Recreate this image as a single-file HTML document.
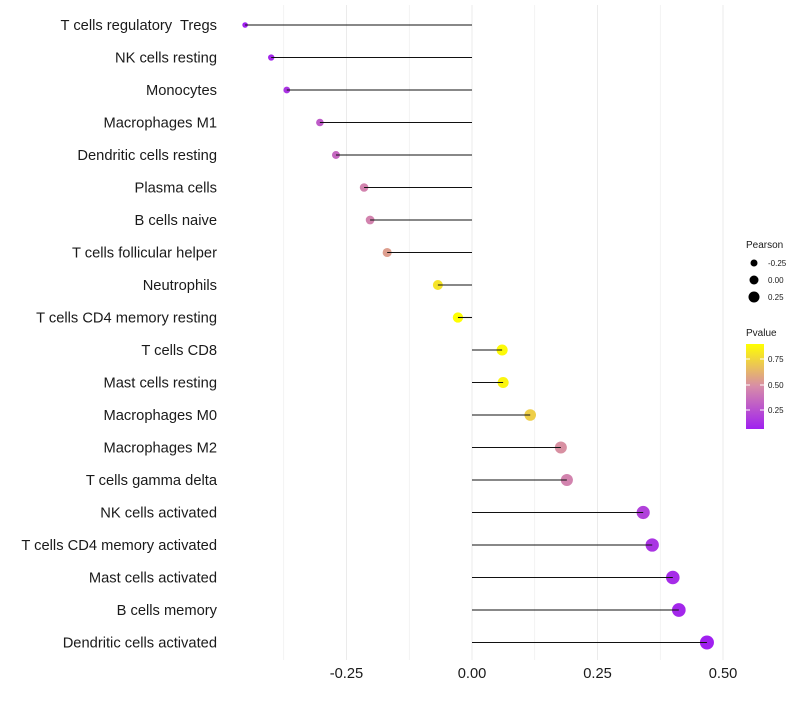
<!DOCTYPE html>
<html><head><meta charset="utf-8"><style>
body{margin:0;background:#fff;font-family:"Liberation Sans",sans-serif;}
svg text{font-family:"Liberation Sans",sans-serif;white-space:pre;}
</style></head><body>
<svg id="chart" width="800" height="700" xmlns="http://www.w3.org/2000/svg">
<defs><linearGradient id="pg" x1="0" y1="1" x2="0" y2="0">
<stop offset="0" stop-color="#a020f0"/><stop offset="0.5" stop-color="#d78ca8"/><stop offset="1" stop-color="#ffff00"/></linearGradient></defs>
<g id="grid"></g>
<g id="marks"></g>
<g id="ylabels"></g>
<g id="xlabels"></g>
<g>
<text x="746" y="248" font-size="10" fill="#1a1a1a">Pearson</text>
<circle cx="754" cy="263" r="3.5" fill="#000"/><text x="768" y="266" font-size="8" fill="#1a1a1a">-0.25</text>
<circle cx="754" cy="280" r="4.5" fill="#000"/><text x="768" y="283" font-size="8" fill="#1a1a1a">0.00</text>
<circle cx="754" cy="297" r="5.5" fill="#000"/><text x="768" y="300" font-size="8" fill="#1a1a1a">0.25</text>
</g>
<g>
<text x="746" y="336" font-size="10" fill="#1a1a1a">Pvalue</text>
<rect x="746" y="344" width="18" height="85" fill="url(#pg)"/>
<line x1="746" y1="359" x2="750" y2="359" stroke="#fff"/><line x1="760" y1="359" x2="764" y2="359" stroke="#fff"/>
<line x1="746" y1="385" x2="750" y2="385" stroke="#fff"/><line x1="760" y1="385" x2="764" y2="385" stroke="#fff"/>
<line x1="746" y1="410" x2="750" y2="410" stroke="#fff"/><line x1="760" y1="410" x2="764" y2="410" stroke="#fff"/>
<text x="768" y="362" font-size="8" fill="#1a1a1a">0.75</text>
<text x="768" y="388" font-size="8" fill="#1a1a1a">0.50</text>
<text x="768" y="413" font-size="8" fill="#1a1a1a">0.25</text>
</g>
</svg>
<script>
const categories=["T cells regulatory  Tregs","NK cells resting","Monocytes","Macrophages M1","Dendritic cells resting","Plasma cells","B cells naive","T cells follicular helper","Neutrophils","T cells CD4 memory resting","T cells CD8","Mast cells resting","Macrophages M0","Macrophages M2","T cells gamma delta","NK cells activated","T cells CD4 memory activated","Mast cells activated","B cells memory","Dendritic cells activated"];
const pearson=[-0.452,-0.400,-0.369,-0.303,-0.271,-0.215,-0.203,-0.169,-0.068,-0.028,0.060,0.062,0.116,0.177,0.189,0.341,0.359,0.400,0.412,0.468];
const pvalues=[0.07,0.10,0.15,0.30,0.35,0.45,0.45,0.55,0.80,0.90,0.88,0.86,0.72,0.50,0.45,0.20,0.15,0.12,0.10,0.07];
const xTicks=[-0.25,0,0.25,0.5];
const xTickLabels=["-0.25","0.00","0.25","0.50"];
const NS="http://www.w3.org/2000/svg";
const x=v=>472+v*502;
const y=i=>25+i*32.5;
const r=v=>Math.sqrt(Math.max(2.5,28+45*v));
function lerp(a,b,t){return Math.round(a+(b-a)*t);}
function color(p){
  let t=(p-0.074)/(0.897-0.074);t=Math.max(0,Math.min(1,t));
  const s=[[160,32,240],[215,140,168],[255,255,0]];
  let a,b,u;if(t<0.5){a=s[0];b=s[1];u=t/0.5;}else{a=s[1];b=s[2];u=(t-0.5)/0.5;}
  return `rgb(${lerp(a[0],b[0],u)},${lerp(a[1],b[1],u)},${lerp(a[2],b[2],u)})`;
}
function mk(tag,attrs,parent){const e=document.createElementNS(NS,tag);for(const k in attrs)e.setAttribute(k,attrs[k]);parent.appendChild(e);return e;}
const grid=document.getElementById('grid');
for(let v=-0.5;v<=0.5001;v+=0.125){
  const gx=x(v);if(gx<230||gx>740)continue;
  const l=mk('line',{x1:gx,y1:5,x2:gx,y2:660,stroke:'#ebebeb','stroke-width':Math.abs(v*4-Math.round(v*4))<1e-6?1:0.6},grid);
  
  
}
const marks=document.getElementById('marks');
const yl=document.getElementById('ylabels');
categories.forEach((c,i)=>{
  const cy=y(i),cx=x(pearson[i]);
  const pt=mk('circle',{cx:cx,cy:cy,r:r(pearson[i]),fill:color(pvalues[i])},marks);
  
  
  const ln=mk('line',{x1:x(0),y1:cy,x2:cx,y2:cy,stroke:'#111','stroke-width':1.1},marks);
  
  
  const t=mk('text',{x:217,y:cy+5,'text-anchor':'end','font-size':14.7,fill:'#1a1a1a'},yl);
  t.textContent=c;
  
  
});
const xl=document.getElementById('xlabels');
xTicks.forEach((v,i)=>{
  const t=mk('text',{x:x(v),y:678,'text-anchor':'middle','font-size':14.7,fill:'#1a1a1a'},xl);
  t.textContent=xTickLabels[i];
  
  
});
</script>
</body></html>
